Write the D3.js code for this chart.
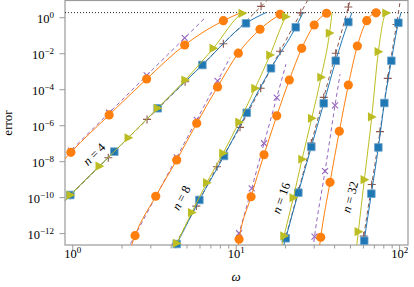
<!DOCTYPE html>
<html>
<head>
<meta charset="utf-8">
<script src="https://cdnjs.cloudflare.com/ajax/libs/d3/7.8.5/d3.min.js"></script>
<style>
body{margin:0;padding:0;background:#fff;}
svg{display:block;font-family:"Liberation Serif","DejaVu Serif",serif;}
</style>
</head>
<body>
<div id="chart"></div>
<script>
// [omega, error] samples.
// first and last entry of each series are only where the curve leaves the plot / stops (no mark)
const n4_orange = [[0.865, 9.1e-9], [0.98, 3.1e-8], [1.68, 3.7e-6], [2.85, 3.7e-4], [4.87, 0.0286], [8.4, 0.64], [10.78, 1.8]];
const n4_purple = [[0.864, 1.22e-8], [0.98, 3.9e-8], [1.68, 4.9e-6], [2.85, 5.8e-4], [4.87, 0.070], [6.58, 1.05]];
const n4_brown = [[0.864, 4.4e-11], [0.972, 1.26e-10], [1.66, 1.56e-8], [2.866, 2.1e-6], [4.90, 2.6e-4], [8.40, 0.0337], [14.29, 4.0], [16, 11.1]];
const n4_blue = [[0.864, 4.3e-11], [0.972, 1.32e-10], [1.807, 3.4e-8], [3.33, 8.7e-6], [6.25, 2.2e-3], [11.56, 0.458], [15.32, 1.8]];
const n4_olive = [[0.864, 4.6e-11], [0.972, 1.32e-10], [1.463, 5.3e-9], [2.20, 2.0e-7], [3.32, 8.7e-6], [4.90, 3.2e-4], [7.29, 0.0187], [10.97, 1.65], [11.16, 1.8]];

const n8_orange = [[2.19, 5.4e-14], [2.42, 7.3e-13], [3.24, 1.12e-10], [4.355, 1.17e-8], [5.77, 1.28e-6], [7.74, 1.34e-4], [10.37, 0.0100], [14.08, 0.213], [18.67, 1.45], [19.34, 1.8]];
const n8_purple = [[2.07, 5.4e-14], [2.42, 7.5e-13], [3.24, 1.07e-10], [4.355, 1.63e-8], [5.77, 1.97e-6], [7.74, 2.87e-4], [9.23, 5.7e-3]];
const n8_brown = [[3.92, 5.4e-14], [4.29, 2.45e-13], [5.74, 3.2e-11], [7.68, 4.9e-9], [10.62, 7.6e-7], [14.22, 1.12e-4], [18.67, 0.0129], [25.02, 1.75], [28, 11.5]];
const n8_blue = [[3.99, 5.4e-14], [4.355, 2.5e-13], [5.99, 7.0e-11], [8.48, 1.95e-8], [11.68, 4.9e-6], [16.44, 1.45e-3], [23.29, 0.275], [25.82, 1.8]];
const n8_olive = [[3.97, 5.4e-14], [4.355, 2.75e-13], [5.38, 1.41e-11], [6.65, 6.4e-10], [8.36, 2.75e-8], [10.48, 1.47e-6], [13.13, 1.12e-4], [16.21, 7.9e-3], [20.23, 1.07], [20.89, 1.8]];

const n16_orange = [[10.11, 5.4e-14], [10.48, 4.6e-13], [12.41, 1.05e-10], [14.90, 2.27e-8], [17.82, 3.3e-6], [21.28, 3.24e-4], [25.34, 0.0187], [30.22, 0.369], [35.95, 1.65], [36.72, 1.8]];
const n16_purple = [[9.58, 5.4e-14], [10.48, 9.9e-13], [12.53, 3.1e-10], [14.90, 9.9e-8], [17.82, 3.4e-5], [20.3, 2.45e-3]];
const n16_brown = [[18.83, 5.4e-14], [20.23, 5.9e-13], [24.16, 2.2e-10], [29.01, 1.02e-7], [34.56, 3.5e-5], [40.93, 9.9e-3], [48.88, 3.69], [52, 29]];
const n16_blue = [[18.88, 5.4e-14], [20.23, 5.2e-13], [24.16, 1.78e-10], [29.01, 6.2e-8], [34.56, 1.65e-5], [40.93, 3.8e-3], [48.88, 0.54], [51.5, 1.8]];
const n16_olive = [[18.44, 5.4e-14], [19.75, 7.0e-13], [22.51, 9.3e-11], [25.46, 1.28e-8], [29.18, 2.4e-6], [33.27, 4.6e-4], [37.5, 0.132], [38.86, 1.8]];

const n32_orange = [[32.03, 5.4e-14], [33.13, 5.9e-13], [37.76, 6.7e-10], [43.05, 4.6e-7], [48.88, 1.71e-4], [55.49, 0.0251], [63.35, 0.64], [72.23, 1.75], [74.5, 1.8]];
const n32_purple = [[29.31, 5.4e-14], [30.35, 6.4e-13], [35.20, 2.8e-9], [40.52, 1.26e-5], [43.5, 6.7e-4]];
const n32_brown = [[58.15, 5.4e-14], [60.72, 6.9e-13], [67.98, 5.1e-10], [76.38, 4.4e-7], [85.17, 4.0e-4], [96.4, 0.39], [104, 33]];
const n32_blue = [[59.3, 5.4e-14], [61.15, 3.8e-13], [67.6, 1.56e-10], [74.61, 5.8e-8], [81.19, 1.71e-5], [89.6, 3.8e-3], [98.9, 0.49], [102.7, 1.8]];
const n32_olive = [[54.1, 5.4e-14], [56.27, 1.21e-12], [61.24, 9.4e-10], [67.98, 2.86e-6], [74.61, 0.0121], [83.15, 1.71], [84.5, 1.8]];

const orders = [4, 8, 16, 32];
const labelAt = [[1.358, 2.5e-8], [4.63, 9.1e-11], [18.93, 9.1e-11], [50.07, 1.03e-10]];
const ceiling = 1.8;
const xTicks = [1, 10, 100];
const yTicks = [1, 1e-2, 1e-4, 1e-6, 1e-8, 1e-10, 1e-12];

const W = 414, H = 287;
const L = 65, R = 408, T = 0.5, B = 245;
const gray = "#9a9a9a";

const x = d3.scaleLog().domain([0.902, 113.3]).range([L, R]);
const y = d3.scaleLog().domain([2.2e-13, 8.47]).range([B, T]);

const svg = d3.select("#chart").append("svg").attr("width", W).attr("height", H);
svg.append("defs").append("clipPath").attr("id", "clip").append("rect")
    .attr("x", L).attr("y", T).attr("width", R - L).attr("height", B - T);

// minor x ticks 2..9 per decade
var xMinor = [];
[1, 10].forEach(function(d){ for(var k = 2; k < 10; k++){ xMinor.push(d*k); } });

function expText(d){
    return String(Math.round(Math.log10(d))).replace("-", "\u2212");
}
function powLabels(sel){
    sel.each(function(d){
        var t = d3.select(this).text(null);
        t.append("tspan").text("10");
        t.append("tspan").attr("dy", -5).attr("font-size", 9).text(expText(d));
    });
}

var gxm = svg.append("g").attr("transform", "translate(0," + B + ")")
    .call(d3.axisBottom(x).tickValues(xMinor).tickSize(3.5).tickFormat(""));
var gx = svg.append("g").attr("transform", "translate(0," + B + ")")
    .call(d3.axisBottom(x).tickValues(xTicks).tickSize(6).tickFormat(""));
var gy = svg.append("g").attr("transform", "translate(" + L + ",0)")
    .call(d3.axisLeft(y).tickValues(yTicks).tickSize(5.5).tickPadding(5.5).tickFormat(""));
[gxm, gx, gy].forEach(function(g){
    g.select(".domain").remove();
    g.attr("font-family", null).attr("font-size", 12.5);
    g.selectAll(".tick line").attr("stroke", gray).attr("stroke-width", 1);
});
gx.selectAll(".tick text").attr("dy", null).attr("y", 13.3).attr("fill", "#000").call(powLabels);
gy.selectAll(".tick text").attr("dy", null).attr("y", 5).attr("fill", "#000").call(powLabels);

svg.append("rect").attr("x", L).attr("y", T).attr("width", R - L).attr("height", B - T)
    .attr("fill", "none").attr("stroke", gray).attr("stroke-width", 1.2);

// saturation level
svg.append("line").attr("clip-path", "url(#clip)")
    .attr("x1", L).attr("x2", R).attr("y1", y(ceiling)).attr("y2", y(ceiling))
    .attr("stroke", "#111").attr("stroke-width", 0.9).attr("stroke-dasharray", "1,2");

var marks = {
    circle: d3.symbol().type(d3.symbolCircle).size(66)(),
    square: "M-3.8,-3.8H3.8V3.8H-3.8Z",
    tri: "M-3.8,-4.6L5,0L-3.8,4.6Z",
    cross: "M-3,-3L3,3M-3,3L3,-3",
    plus: "M-4,0H4M0,-4V4"
};
var styles = [
    {key: "purple", color: "#9467bd", dash: "4,3", mark: "cross"},
    {key: "orange", color: "#ff7f0e", dash: null, mark: "circle"},
    {key: "brown", color: "#8c564b", dash: "4,3", mark: "plus"},
    {key: "blue", color: "#1f77b4", dash: null, mark: "square"},
    {key: "olive", color: "#bcbd22", dash: null, mark: "tri"}
];
var series = {
    4: {orange: n4_orange, purple: n4_purple, brown: n4_brown, blue: n4_blue, olive: n4_olive},
    8: {orange: n8_orange, purple: n8_purple, brown: n8_brown, blue: n8_blue, olive: n8_olive},
    16: {orange: n16_orange, purple: n16_purple, brown: n16_brown, blue: n16_blue, olive: n16_olive},
    32: {orange: n32_orange, purple: n32_purple, brown: n32_brown, blue: n32_blue, olive: n32_olive}
};

var line = d3.line().x(function(d){ return x(d[0]); }).y(function(d){ return y(d[1]); })
    .curve(d3.curveMonotoneX);

styles.forEach(function(s){
    orders.forEach(function(n){
        var data = series[n][s.key];
        svg.append("path").datum(data).attr("clip-path", "url(#clip)")
            .attr("d", line).attr("fill", "none")
            .attr("stroke", s.color).attr("stroke-width", 1)
            .attr("stroke-dasharray", s.dash);
        var pts = data.slice(1, -1).filter(function(d){
            return d[0] >= x.domain()[0] && d[0] <= x.domain()[1] && d[1] >= y.domain()[0] && d[1] <= y.domain()[1];
        });
        var m = svg.append("g").selectAll("path").data(pts).enter().append("path")
            .attr("transform", function(d){ return "translate(" + x(d[0]) + "," + y(d[1]) + ")"; })
            .attr("d", marks[s.mark]);
        if(s.mark == "cross" || s.mark == "plus"){
            m.attr("fill", "none").attr("stroke", s.color).attr("stroke-width", 1.1);
        }else if(s.mark == "square"){
            m.attr("fill", s.color).attr("stroke", "#6aa3cc").attr("stroke-width", 0.8);
        }else{
            m.attr("fill", s.color);
        }
    });
});

// n = ... labels along the curves
var angles = [-45, -62, -70, -75];
orders.forEach(function(n, i){
    var t = svg.append("text")
        .attr("transform", "translate(" + x(labelAt[i][0]) + "," + y(labelAt[i][1]) + ") rotate(" + angles[i] + ")")
        .attr("text-anchor", "middle").attr("dy", "0.35em").attr("font-size", 12.5);
    t.append("tspan").attr("font-style", "italic").text("n");
    t.append("tspan").text(" = " + n);
});

svg.append("text").attr("x", 236).attr("y", 281).attr("text-anchor", "middle")
    .attr("font-size", 13).attr("font-style", "italic").text("\u03c9");
svg.append("text").attr("transform", "translate(11.7,123) rotate(-90)")
    .attr("text-anchor", "middle").attr("font-size", 13).text("error");
</script>
</body>
</html>
